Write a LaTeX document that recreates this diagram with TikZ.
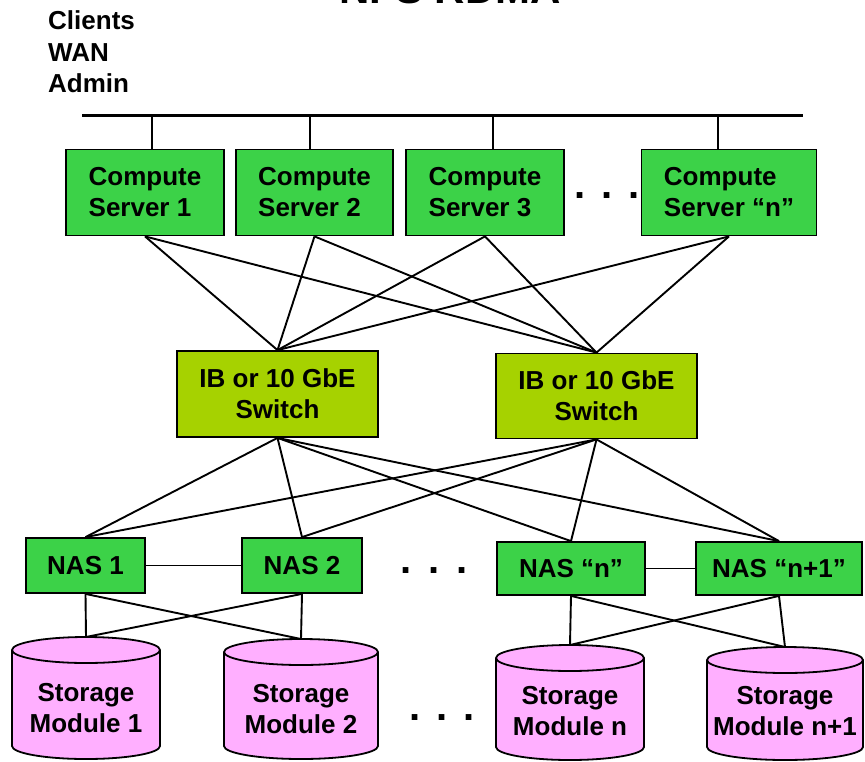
\documentclass[tikz,border=0pt]{standalone}
\usepackage{fontspec}
\setmainfont{Liberation Sans}
\definecolor{cgreen}{HTML}{3CD248}
\definecolor{swgreen}{HTML}{A6D200}
\definecolor{stpink}{HTML}{FFAFFF}
\begin{document}
\begin{tikzpicture}[x=1pt,y=-1pt,
  lbl/.style={font=\bfseries\fontsize{26}{31}\selectfont, inner sep=0pt},
  box/.style={lbl, draw=black, line width=1.8pt},
  comp/.style={box, fill=cgreen, align=left, minimum height=86pt},
  sw/.style={box, fill=swgreen, align=center, minimum width=201pt},
  nas/.style={box, fill=cgreen},
  stor/.style={lbl, align=center},
  link/.style={line width=1.9pt},
  bus/.style={line width=3pt},
  cyl/.style={draw=black, line width=1.8pt, fill=stpink},
  dotrow/.style={font=\bfseries\fontsize{40}{40}\selectfont, inner sep=0pt, anchor=base west}
]
\useasboundingbox (0,0) rectangle (865,761);

% title (cut off at the top edge)
\node[font=\bfseries\fontsize{42}{42}\selectfont, inner sep=0pt, anchor=base] (title) at (450,3) {NFS RDMA};

% left labels
\node[lbl, anchor=base west] (clients) at (48,29) {Clients};
\node[lbl, anchor=base west] (wan) at (48,61) {WAN};
\node[lbl, anchor=base west] (admin) at (48,92) {Admin};

% compute servers
\node[comp, minimum width=158pt] (cs1) at (145,192.5) {Compute\\Server 1};
\node[comp, minimum width=157pt] (cs2) at (314.5,192.5) {Compute\\Server 2};
\node[comp, minimum width=158pt] (cs3) at (485,192.5) {Compute\\Server 3};
\node[comp, minimum width=175pt] (csn) at (729,192.5) {Compute\\Server “n”};
\node[dotrow] (dots1) at (574,198) {.\hspace{16pt}.\hspace{16pt}.};

% bus
\coordinate (busL) at (82,115);
\coordinate (busR) at (803,115);
\draw[bus] (busL) -- (busR);
\coordinate (t1) at (152,115);
\coordinate (t2) at (310,115);
\coordinate (t3) at (493,115);
\coordinate (t4) at (718,115);
\draw[link] (t1) -- (t1 |- cs1.north);
\draw[link] (t2) -- (t2 |- cs2.north);
\draw[link] (t3) -- (t3 |- cs3.north);
\draw[link] (t4) -- (t4 |- csn.north);

% switches
\node[sw, minimum height=86pt] (sw1) at (277.5,394) {IB or 10 GbE\\Switch};
\node[sw, minimum height=85pt] (sw2) at (596.5,396) {IB or 10 GbE\\Switch};

\foreach \c in {cs1,cs2,cs3,csn}{
  \draw[link] (\c.south) -- (sw1.north);
  \draw[link] (\c.south) -- (sw2.north);
}

% NAS
\node[nas, minimum width=119pt, minimum height=55pt] (nas1) at (85.5,565.5) {NAS 1};
\node[nas, minimum width=120pt, minimum height=55pt] (nas2) at (302,565.5) {NAS 2};
\node[nas, minimum width=148pt, minimum height=53pt] (nasn) at (571,568.5) {NAS “n”};
\node[nas, minimum width=166pt, minimum height=53pt] (nasn1) at (779,568.5) {NAS “n+1”};
\node[dotrow] (dots2) at (400,573) {.\hspace{17pt}.\hspace{17pt}.};

\foreach \n in {nas1,nas2,nasn,nasn1}{
  \draw[link] (sw1.south) -- (\n.north);
  \draw[link] (sw2.south) -- (\n.north);
}
\draw[link] (nas1.east) -- (nas2.west);
\draw[link] (nasn.east) -- (nasn1.west);

% storage cylinders
\foreach \cx/\t/\b/\w in {86/637/759/74, 301/639/759/77, 570/645/760/74, 785/647/760/78}{
  \draw[cyl] (\cx-\w,\b-13) arc[start angle=180,end angle=0,x radius=\w,y radius=13]
     -- (\cx+\w,\t+13) arc[start angle=0,end angle=-180,x radius=\w,y radius=13] -- cycle;
  \draw[line width=1.8pt] (\cx-\w,\t+13) arc[start angle=180,end angle=0,x radius=\w,y radius=13];
}
\coordinate (s1t) at (86,637);
\coordinate (s2t) at (301,639);
\coordinate (snt) at (570,645);
\coordinate (sn1t) at (785,647);
\node[stor] (s1) at (86,708) {Storage\\Module 1};
\node[stor] (s2) at (301,709) {Storage\\Module 2};
\node[stor] (sn) at (570,711) {Storage\\Module n};
\node[stor] (sn1) at (785,711) {Storage\\Module n+1};
\node[dotrow] (dots3) at (409,720) {.\hspace{16pt}.\hspace{16pt}.};

\draw[link] (nas1.south) -- (s1t);
\draw[link] (nas1.south) -- (s2t);
\draw[link] (nas2.south) -- (s1t);
\draw[link] (nas2.south) -- (s2t);
\draw[link] (nasn.south) -- (snt);
\draw[link] (nasn.south) -- (sn1t);
\draw[link] (nasn1.south) -- (snt);
\draw[link] (nasn1.south) -- (sn1t);
\end{tikzpicture}
\end{document}
